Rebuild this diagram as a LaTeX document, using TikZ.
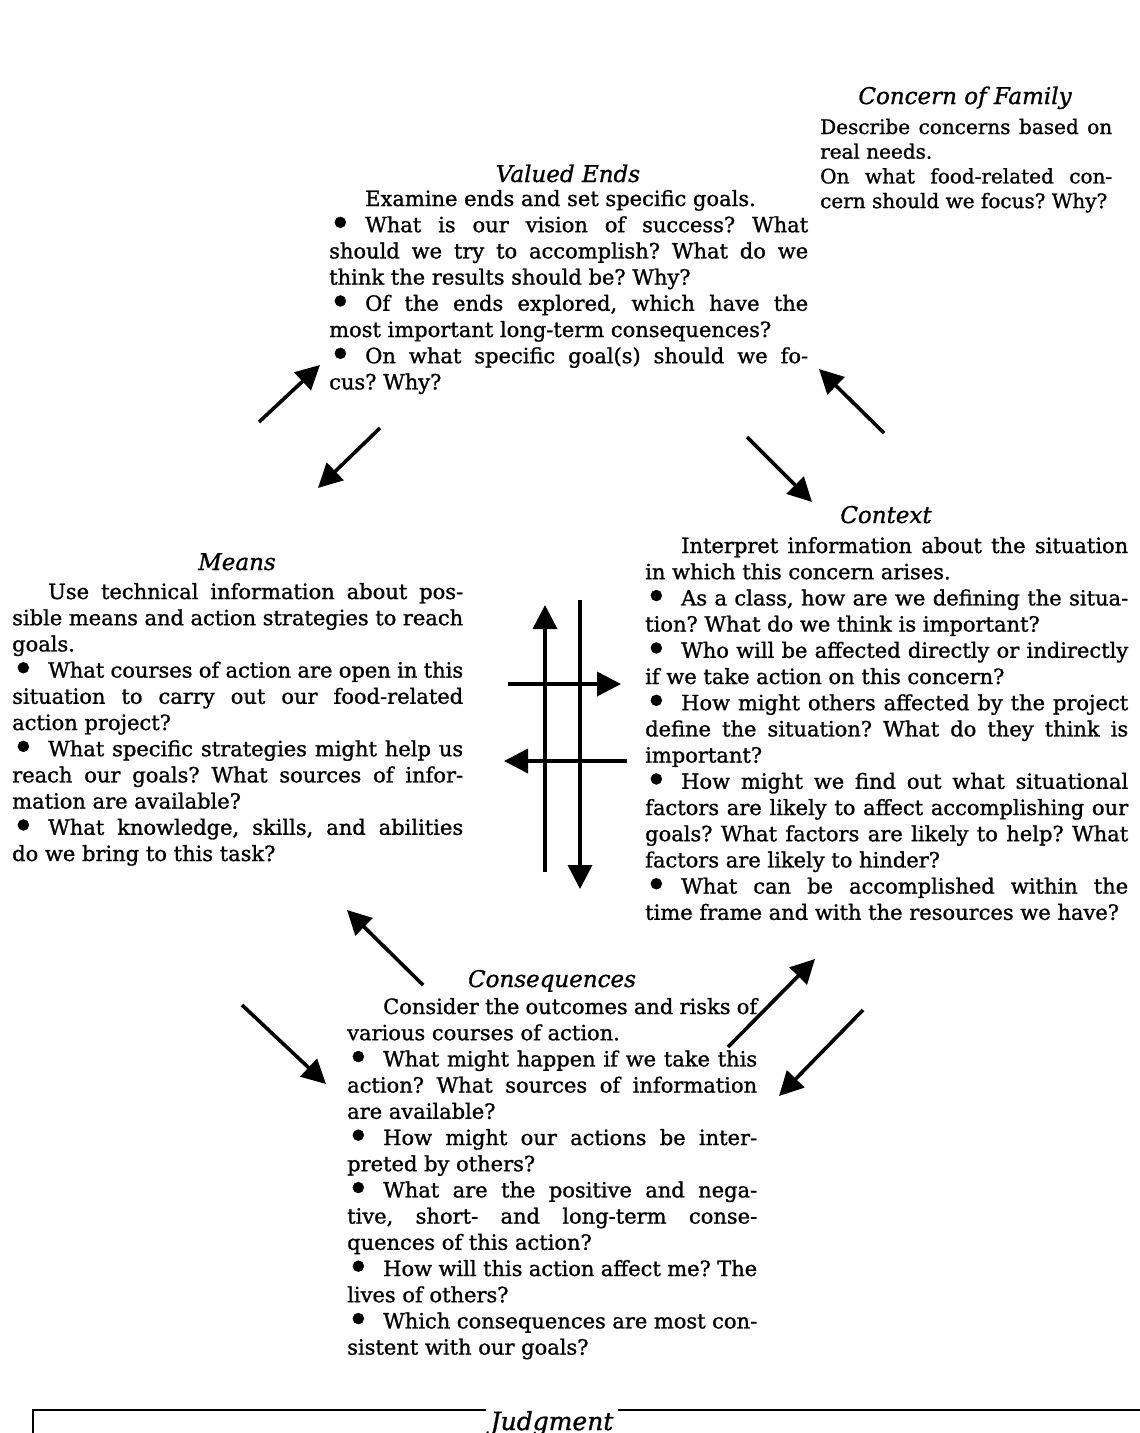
\documentclass[tikz,border=0pt]{standalone}
\usepackage{fontspec}
\setmainfont{DejaVu Serif}[FakeBold=1.1]
\usepackage{graphicx}
\usetikzlibrary{arrows.meta}

% type sizes for the question blocks and their headings
\newcommand\bodyfont{\fontsize{21pt}{26.2pt}\selectfont}
\newcommand\smallbodyfont{\fontsize{20pt}{24.7pt}\selectfont}
\newcommand\headfont{\fontsize{23pt}{26pt}\selectfont\itshape}
\newcommand\bul{\makebox[36pt][l]{\raisebox{-0.2em}{\scalebox{1.8}{\textbullet}}}}
\newcommand\ind{\hspace*{36pt}}
\frenchspacing
\tolerance=10000
\hbadness=10000
\hfuzz=6pt

\tikzset{
  block/.style={text width=#1, align=justify, inner sep=0pt, anchor=base west, font=\bodyfont},
  head/.style={anchor=base, inner sep=0pt, font=\headfont},
  flow/.style={line width=3.6pt, -{Triangle[length=24pt,width=24pt]}},
  frame/.style={line width=1.8pt},
}

\begin{document}
\begin{tikzpicture}[x=1pt, y=-1pt]
\useasboundingbox (0,0) rectangle (1140,1433);
\fill[white] (0,0) rectangle (1140,1433);

% ---- Concern of Family ----
\node[head] (cfT) at (965,104) {Concern of Family};
\node[block=292pt, font=\smallbodyfont] (cfB) at (820,134) {Describe concerns based on\linebreak real needs.\par
On what food-related con-\linebreak cern should we focus? Why?};

% ---- Valued Ends ----
\node[head] (veT) at (568,182) {Valued Ends};
\node[block=479pt] (veB) at (329,206) {\ind Examine ends and set specific goals.\par
\bul What is our vision of success? What\linebreak should we try to accomplish? What do we\linebreak think the results should be? Why?\par
\bul Of the ends explored, which have the\linebreak most important long-term consequences?\par
\bul On what specific goal(s) should we fo-\linebreak cus? Why?};

% ---- Means ----
\node[head] (mnT) at (237,570) {Means};
\node[block=451pt] (mnB) at (12,599) {\ind Use technical information about pos-\linebreak sible means and action strategies to reach\linebreak goals.\par
\bul What courses of action are open in this\linebreak situation to carry out our food-related\linebreak action project?\par
\bul What specific strategies might help us\linebreak reach our goals? What sources of infor-\linebreak mation are available?\par
\bul What knowledge, skills, and abilities\linebreak do we bring to this task?};

% ---- Context ----
\node[head] (cxT) at (886,523) {Context};
\node[block=483pt] (cxB) at (645,553) {\ind Interpret information about the situation\linebreak in which this concern arises.\par
\bul As a class, how are we defining the situa-\linebreak tion? What do we think is important?\par
\bul Who will be affected directly or indirectly\linebreak if we take action on this concern?\par
\bul How might others affected by the project\linebreak define the situation? What do they think is\linebreak important?\par
\bul How might we find out what situational\linebreak factors are likely to affect accomplishing our\linebreak goals? What factors are likely to help? What\linebreak factors are likely to hinder?\par
\bul What can be accomplished within the\linebreak time frame and with the resources we have?};

% ---- Consequences ----
\node[head] (csT) at (552,987) {Consequences};
\node[block=410pt] (csB) at (347,1014) {\ind Consider the outcomes and risks of\linebreak various courses of action.\par
\bul What might happen if we take this\linebreak action? What sources of information\linebreak are available?\par
\bul How might our actions be inter-\linebreak preted by others?\par
\bul What are the positive and nega-\linebreak tive, short- and long-term conse-\linebreak quences of this action?\par
\bul How will this action affect me? The\linebreak lives of others?\par
\bul Which consequences are most con-\linebreak sistent with our goals?};

% ---- Judgment frame ----
\coordinate (jdL) at (33,1433);
\coordinate (jdC) at (33,1410);
\coordinate (jdR) at (1140,1410);
\draw[frame] (jdL) -- (jdC) -- (jdR);
\node[head, font=\fontsize{25pt}{28pt}\selectfont\itshape, fill=white, inner xsep=5pt, inner ysep=4pt] (jdT) at (552,1430) {Judgment};

% ---- arrow end points ----
\coordinate (a1s) at (259,422);  \coordinate (a1e) at (320,365);
\coordinate (a2s) at (380,428);  \coordinate (a2e) at (318,488);
\coordinate (a3s) at (884,433);  \coordinate (a3e) at (819,369);
\coordinate (a4s) at (747,437);  \coordinate (a4e) at (812,502);
\coordinate (a5s) at (423,985);  \coordinate (a5e) at (347,910);
\coordinate (a6s) at (242,1005); \coordinate (a6e) at (326,1084);
\coordinate (a7s) at (728,1047); \coordinate (a7e) at (815,959);
\coordinate (a8s) at (863,1010); \coordinate (a8e) at (779,1096);
\coordinate (upS) at (545,872);  \coordinate (upE) at (545,605);
\coordinate (dnS) at (580,600);  \coordinate (dnE) at (580,889);
\coordinate (rtS) at (508,684);  \coordinate (rtE) at (621,684);
\coordinate (ltS) at (627,761);  \coordinate (ltE) at (504,761);

% ---- arrows between the stages ----
\foreach \p in {a1,a2,a3,a4,a5,a6,a7,a8}
  \draw[flow] (\p s) -- (\p e);
\draw[flow] (upS) -- (upE);
\draw[flow] (dnS) -- (dnE);
\draw[flow] (rtS) -- (rtE);
\draw[flow] (ltS) -- (ltE);
\end{tikzpicture}
\end{document}
